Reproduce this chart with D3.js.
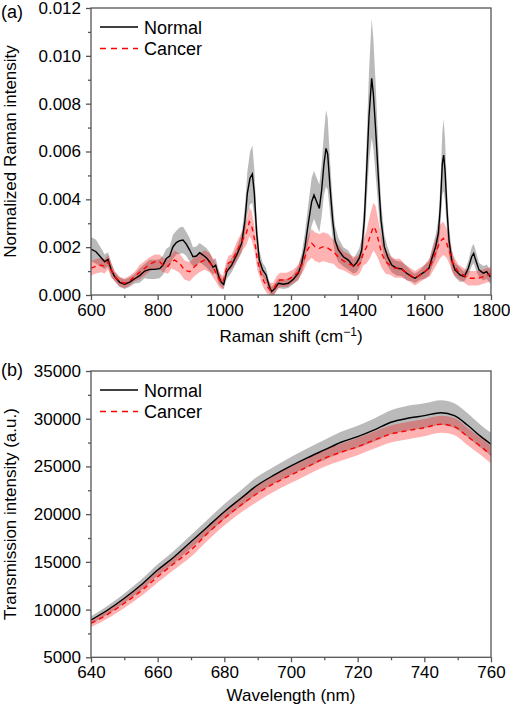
<!DOCTYPE html>
<html><head><meta charset="utf-8">
<script src="https://cdn.jsdelivr.net/npm/d3@7"></script>
<style>
body{margin:0;background:#fff}
text{font-family:"Liberation Sans",Arial,sans-serif;fill:#000}
</style>
</head><body><svg id="c" width="510" height="708"></svg>
<script>
// ---------- Panel (a): Raman spectra ----------
const normalShift = [600,615,630,641,651,661,671,686,701,716,731,746,761,776,791,806,816,826,836,846,856,866,876,886,896,906,916,926,936,946,956,966,974,983,991,998,1007,1022,1037,1052,1062,1069,1077,1084,1090,1097,1105,1115,1125,1135,1142,1152,1162,1177,1192,1207,1222,1232,1242,1252,1262,1269,1277,1285,1292,1299,1305,1310,1317,1325,1332,1342,1357,1372,1387,1397,1405,1412,1420,1427,1434,1442,1447,1454,1462,1470,1480,1490,1502,1517,1532,1547,1562,1572,1587,1602,1614,1624,1634,1642,1648,1654,1658,1662,1668,1674,1682,1692,1707,1720,1732,1742,1748,1754,1764,1777,1787,1797,1800];
const normalMean = [0.00192,0.00181,0.00157,0.00139,0.00149,0.00104,0.00077,0.00053,0.00045,0.00054,0.00068,0.00081,0.00100,0.00107,0.00107,0.00110,0.00125,0.00153,0.00163,0.00202,0.00219,0.00227,0.00230,0.00213,0.00188,0.00160,0.00163,0.00177,0.00167,0.00156,0.00139,0.00116,0.00125,0.00077,0.00053,0.00044,0.00097,0.00125,0.00167,0.00216,0.00313,0.00425,0.00488,0.00506,0.00425,0.00258,0.00146,0.00105,0.00084,0.00035,0.00014,0.00028,0.00049,0.00045,0.00049,0.00066,0.00091,0.00132,0.00202,0.00300,0.00390,0.00418,0.00390,0.00362,0.00439,0.00550,0.00613,0.00590,0.00453,0.00313,0.00230,0.00188,0.00160,0.00146,0.00120,0.00135,0.00155,0.00188,0.00313,0.00522,0.00745,0.00906,0.00843,0.00690,0.00494,0.00313,0.00202,0.00160,0.00125,0.00112,0.00109,0.00091,0.00077,0.00070,0.00084,0.00098,0.00112,0.00160,0.00202,0.00258,0.00369,0.00550,0.00585,0.00522,0.00355,0.00230,0.00146,0.00105,0.00084,0.00077,0.00112,0.00160,0.00174,0.00146,0.00105,0.00091,0.00098,0.00077,0.00080];
const normalSD = [0.0005,0.0005,0.0004,0.0003,0.0003,0.0003,0.0002,0.0002,0.0002,0.0002,0.0002,0.0003,0.0003,0.0004,0.0004,0.0004,0.0004,0.0004,0.0004,0.0005,0.0005,0.00055,0.00055,0.0005,0.0005,0.0004,0.0004,0.0004,0.0004,0.0004,0.0004,0.0003,0.0003,0.0003,0.0002,0.0002,0.0003,0.0003,0.0003,0.0004,0.0006,0.0009,0.0011,0.0012,0.0010,0.0006,0.0004,0.0003,0.0003,0.0002,0.0002,0.0002,0.0002,0.0002,0.0002,0.0002,0.0003,0.0004,0.0006,0.0008,0.0010,0.0010,0.0010,0.0010,0.0011,0.0013,0.0016,0.0015,0.0011,0.0008,0.0006,0.0005,0.0004,0.0004,0.0003,0.0004,0.0004,0.0005,0.0008,0.0013,0.0019,0.0025,0.0023,0.0019,0.0013,0.0008,0.0005,0.0004,0.0003,0.0003,0.0003,0.0003,0.0002,0.0002,0.0002,0.0003,0.0003,0.0004,0.0005,0.0006,0.0009,0.0013,0.0015,0.0013,0.0009,0.0006,0.0004,0.0003,0.0003,0.0002,0.0003,0.0004,0.0004,0.0004,0.0003,0.0003,0.0003,0.0003,0.0003];

const cancerShift = [600,616,631,641,651,661,671,686,701,716,731,746,761,776,791,806,816,831,841,851,866,881,896,911,926,941,956,971,986,996,1004,1012,1022,1037,1052,1066,1075,1082,1090,1099,1109,1119,1129,1137,1147,1157,1167,1187,1207,1222,1237,1249,1262,1272,1285,1297,1312,1327,1342,1357,1372,1387,1397,1407,1417,1427,1437,1447,1454,1462,1472,1484,1497,1512,1527,1542,1557,1572,1587,1602,1617,1627,1637,1647,1657,1667,1677,1687,1702,1717,1732,1747,1762,1777,1792,1800];
const cancerMean = [0.00112,0.00121,0.00125,0.00120,0.00138,0.00104,0.00079,0.00056,0.00049,0.00060,0.00077,0.00095,0.00112,0.00128,0.00139,0.00139,0.00125,0.00119,0.00140,0.00146,0.00132,0.00104,0.00097,0.00119,0.00136,0.00146,0.00135,0.00104,0.00060,0.00052,0.00100,0.00134,0.00139,0.00181,0.00223,0.00258,0.00306,0.00290,0.00237,0.00146,0.00091,0.00056,0.00035,0.00021,0.00021,0.00049,0.00063,0.00063,0.00077,0.00097,0.00139,0.00188,0.00216,0.00202,0.00195,0.00202,0.00195,0.00181,0.00160,0.00143,0.00132,0.00121,0.00120,0.00132,0.00174,0.00202,0.00244,0.00286,0.00272,0.00230,0.00174,0.00139,0.00125,0.00112,0.00112,0.00098,0.00084,0.00070,0.00084,0.00098,0.00118,0.00153,0.00188,0.00223,0.00237,0.00216,0.00174,0.00125,0.00098,0.00084,0.00070,0.00070,0.00070,0.00077,0.00084,0.00091];
const cancerSD = [0.0003,0.0003,0.0003,0.0003,0.0003,0.0003,0.0002,0.0002,0.0002,0.0002,0.0002,0.0003,0.0003,0.0003,0.0003,0.0003,0.0003,0.0003,0.0003,0.0004,0.0004,0.0004,0.0004,0.0004,0.0004,0.0004,0.0004,0.0004,0.0003,0.0003,0.0003,0.0003,0.0003,0.0004,0.0004,0.0005,0.0006,0.0006,0.0005,0.0004,0.0003,0.0003,0.0003,0.0003,0.0003,0.0003,0.0003,0.0003,0.0003,0.0003,0.0004,0.0005,0.0006,0.0006,0.0006,0.0006,0.0006,0.0005,0.0005,0.0004,0.0004,0.0004,0.0004,0.0004,0.0005,0.0007,0.0009,0.0010,0.0010,0.0008,0.0006,0.0005,0.0004,0.0004,0.0004,0.0003,0.0003,0.0003,0.0003,0.0003,0.0004,0.0005,0.0006,0.0007,0.0007,0.0006,0.0005,0.0004,0.0003,0.0003,0.0003,0.0003,0.0003,0.0003,0.0003,0.0003];

const ramanXTicks = [600,800,1000,1200,1400,1600,1800];
const ramanXMinor = [700,900,1100,1300,1500,1700];
const ramanYTicks = [0,0.002,0.004,0.006,0.008,0.010,0.012];
const ramanYMinor = [0.001,0.003,0.005,0.007,0.009,0.011];

// ---------- Panel (b): Transmission spectra ----------
const wlNormal = [640,645,650,655,660,665,670,675,680,685,690,695,700,705,710,715,720,725,730,735,740,745,749,753,757,760];
const transNormal = [8909,9957,11183,12577,14149,15543,17115,18687,20259,21663,23057,24105,25048,25918,26725,27532,28119,28821,29628,30047,30319,30633,30319,29314,28119,27323];
const transNormalSD = [400,450,500,550,600,650,700,750,800,850,900,900,950,1000,1050,1100,1150,1200,1250,1300,1300,1300,1300,1250,1200,1200];
const wlCancer = [640,645,650,655,660,665,670,675,680,685,690,695,700,705,710,715,720,725,730,735,740,745,749,753,757,760];
const transCancer = [8563,9506,10659,11948,13447,14851,16245,17995,19567,20961,22187,23235,24105,24975,25855,26484,27071,27773,28401,28747,29062,29418,29170,28119,27071,26200];
const transCancerSD = [400,450,500,550,600,650,700,750,750,800,850,850,850,850,900,900,900,900,900,900,900,900,900,900,900,900];

const wlXTicks = [640,660,680,700,720,740,760];
const wlXMinor = [650,670,690,710,730,750];
const transYTicks = [5000,10000,15000,20000,25000,30000,35000];
const transYMinor = [7500,12500,17500,22500,27500,32500];

const seriesNames = ["Normal","Cancer"];

const svg = d3.select("#c");
const AX = "#555";
const FS = "17px";

function panel(o){
  const x = d3.scaleLinear().domain(o.xDomain).range([91,491]);
  const y = d3.scaleLinear().domain(o.yDomain).range([o.bottom,o.top]);
  const g = svg.append("g");
  const cid = "clip"+o.id;
  g.append("clipPath").attr("id",cid).append("rect")
    .attr("x",91).attr("y",o.top).attr("width",400).attr("height",o.bottom-o.top);
  const pg = g.append("g").attr("clip-path","url(#"+cid+")");
  const mk = (xs,ms,ss)=>xs.map((w,i)=>({w,m:ms[i],s:ss[i]}));
  const dn = mk(o.nx,o.nm,o.ns), dc = mk(o.cx,o.cm,o.cs);
  const area = d3.area().curve(o.curve).x(d=>x(d.w)).y0(d=>y(d.m-d.s)).y1(d=>y(d.m+d.s));
  const line = d3.line().curve(o.curve).x(d=>x(d.w)).y(d=>y(d.m));
  pg.append("path").attr("d",area(dn)).attr("fill","#000").attr("fill-opacity",0.27);
  pg.append("path").attr("d",area(dc)).attr("fill","#ff0000").attr("fill-opacity",0.3);
  pg.append("path").attr("d",line(dn)).attr("fill","none").attr("stroke","#000").attr("stroke-width",1.4);
  pg.append("path").attr("d",line(dc)).attr("fill","none").attr("stroke","#ff0000").attr("stroke-width",1.4).attr("stroke-dasharray","5,4");

  // frame
  g.append("rect").attr("x",91).attr("y",o.top).attr("width",400).attr("height",o.bottom-o.top)
    .attr("fill","none").attr("stroke",AX).attr("stroke-width",1.3);

  // axes
  const style = sel=>{sel.select(".domain").remove();sel.selectAll("line").attr("stroke",AX).attr("stroke-width",1.3);
    sel.selectAll("text").style("font-size",FS).attr("fill","#000");};
  g.append("g").attr("transform",`translate(0,${o.bottom})`)
    .call(d3.axisBottom(x).tickValues(o.xt).tickSize(5).tickPadding(4).tickFormat(d3.format("d"))).call(style);
  g.append("g").attr("transform",`translate(0,${o.bottom})`)
    .call(d3.axisBottom(x).tickValues(o.xm).tickSize(3).tickFormat("")).call(style);
  g.append("g").attr("transform",`translate(91,0)`)
    .call(d3.axisLeft(y).tickValues(o.yt).tickSize(5).tickPadding(5).tickFormat(o.yf)).call(style);
  g.append("g").attr("transform",`translate(91,0)`)
    .call(d3.axisLeft(y).tickValues(o.ym).tickSize(3).tickFormat("")).call(style);

  // titles
  const xt = g.append("text").attr("x",291).attr("y",o.xTitleY).attr("text-anchor","middle").style("font-size",FS);
  o.xTitle(xt);
  g.append("text").attr("transform",`translate(${o.yTitleX},${(o.top+o.bottom)/2}) rotate(-90)`)
    .attr("text-anchor","middle").style("font-size",FS).text(o.yTitle);
  g.append("text").attr("x",1).attr("y",o.labelY).style("font-size","18px").text(o.label);

  // legend
  const lg = g.append("g");
  seriesNames.forEach((n,i)=>{
    const ly = o.legendY + i*21.5;
    lg.append("line").attr("x1",100).attr("x2",138).attr("y1",ly).attr("y2",ly)
      .attr("stroke",i===0?"#000":"#ff0000").attr("stroke-width",1.4)
      .attr("stroke-dasharray",i===0?null:"6,5");
    lg.append("text").attr("x",144).attr("y",ly+6.5).style("font-size","18px").text(n);
  });
}

panel({id:"a",xDomain:[600,1800],yDomain:[0,0.012],top:8,bottom:295,curve:d3.curveLinear,
  nx:normalShift,nm:normalMean,ns:normalSD,cx:cancerShift,cm:cancerMean,cs:cancerSD,
  xt:ramanXTicks,xm:ramanXMinor,yt:ramanYTicks,ym:ramanYMinor,yf:d3.format(".3f"),
  xTitleY:342,xTitle:t=>{t.append("tspan").text("Raman shift (cm");
    t.append("tspan").attr("dy",-6).style("font-size","12px").text("\u22121");
    t.append("tspan").attr("dy",6).text(")");},
  yTitle:"Normalized Raman intensity",yTitleX:16,label:"(a)",labelY:18,legendY:27});

panel({id:"b",xDomain:[640,760],yDomain:[5000,35000],top:371,bottom:657.3,curve:d3.curveMonotoneX,
  nx:wlNormal,nm:transNormal,ns:transNormalSD,cx:wlCancer,cm:transCancer,cs:transCancerSD,
  xt:wlXTicks,xm:wlXMinor,yt:transYTicks,ym:transYMinor,yf:d3.format("d"),
  xTitleY:701,xTitle:t=>t.text("Wavelength (nm)"),
  yTitle:"Transmission intensity (a.u.)",yTitleX:16,label:"(b)",labelY:376,legendY:390});
</script></body></html>
